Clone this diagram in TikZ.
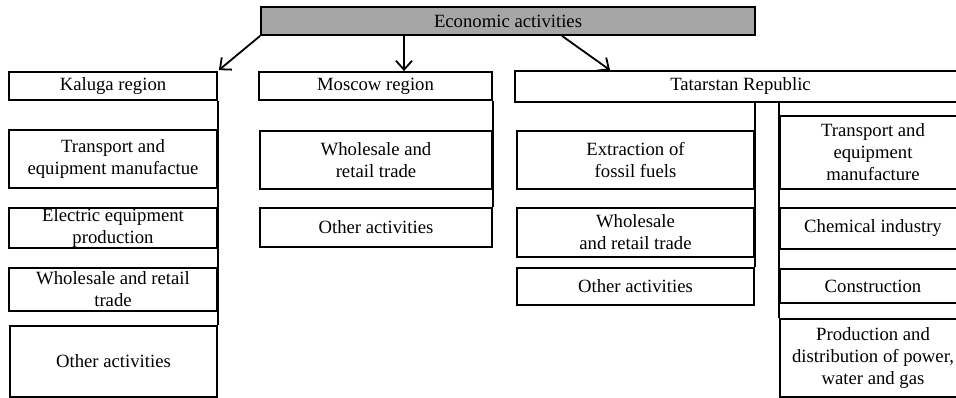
\documentclass[tikz,border=0pt]{standalone}
\usepackage{fontspec}
\setmainfont{Liberation Serif}
\usetikzlibrary{arrows.meta}
\definecolor{econgray}{RGB}{166,166,166}
\tikzset{
  box/.style={draw=black, line width=1.8pt, fill=white, rectangle, inner sep=0pt, align=center,
    font=\fontsize{18.7}{22}\selectfont},
  topbox/.style={box, fill=econgray},
  conn/.style={draw=black, line width=1.8pt},
  arr/.style={conn, -{Straight Barb[length=9pt,width=16pt,line width=1.8pt]}}
}
\begin{document}
\begin{tikzpicture}[x=1pt,y=-1pt]
\useasboundingbox (0,0) rectangle (956,398);
\clip (0,0) rectangle (956,398);
% top
\node[topbox, minimum width=494pt, minimum height=28pt] (eco) at (508,21) {Economic activities};
% Kaluga
\node[box, minimum width=208pt, minimum height=28pt] (kal) at (113,86) {Kaluga region};
\node[box, minimum width=208pt, minimum height=58pt] (kal1) at (113,159) {Transport and\\equipment manufactue};
\node[box, minimum width=208pt, minimum height=40pt] (kal2) at (113,228) {Electric equipment\\production};
\node[box, minimum width=208pt, minimum height=43pt] (kal3) at (113,289.5) {Wholesale and retail\\trade};
\node[box, minimum width=207pt, minimum height=71pt] (kal4) at (113.5,361.5) {Other activities};
% Moscow
\node[box, minimum width=233pt, minimum height=28pt] (mos) at (375.5,86) {Moscow region};
\node[box, minimum width=232pt, minimum height=58pt] (mos1) at (376,160) {Wholesale and\\retail trade};
\node[box, minimum width=232pt, minimum height=39pt] (mos2) at (376,227.5) {Other activities};
% Tatarstan
\node[box, minimum width=451pt, minimum height=31pt] (tat) at (740.5,86.5) {Tatarstan Republic};
\node[box, minimum width=237pt, minimum height=58pt] (tatl1) at (635.5,160) {Extraction of\\fossil fuels};
\node[box, minimum width=237pt, minimum height=49pt] (tatl2) at (635.5,232.5) {Wholesale\\and retail trade};
\node[box, minimum width=237pt, minimum height=37pt] (tatl3) at (635.5,286.5) {Other activities};
\node[box, minimum width=186pt, minimum height=73pt] (tatr1) at (873,152.5) {Transport and\\equipment\\manufacture};
\node[box, minimum width=186pt, minimum height=41pt] (tatr2) at (873,228.5) {Chemical industry};
\node[box, minimum width=186pt, minimum height=34pt] (tatr3) at (873,286) {Construction};
\node[box, minimum width=186pt, minimum height=78pt] (tatr4) at (873,358) {Production and\\distribution of power,\\water and gas};
% vertical connectors
\draw[conn] (kal.south east) -- (kal4.north east);
\draw[conn] (mos.south east) -- (mos2.north east);
\draw[conn] (tat.south -| tatl1.east) -- (tatl3.north east);
\draw[conn] (tat.south -| tatr1.west) -- (tatr4.north west);
% arrows
\path ([xshift=28.5pt]mos.north) coordinate (mt);
\path ([xshift=-130.5pt]tat.north) coordinate (tt);
\path ([xshift=54pt]eco.south) coordinate (ts);
\draw[arr] (eco.south west) -- ([xshift=1pt,yshift=1pt]kal.north east);
\draw[arr] (eco.south -| mt) -- (mt);
\draw[arr] (ts) -- (tt);
\end{tikzpicture}
\end{document}
